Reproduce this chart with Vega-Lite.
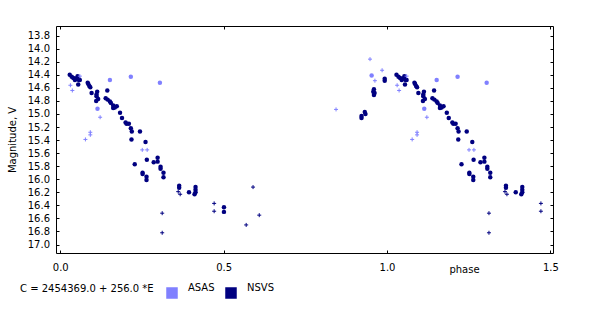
{
  "$schema": "https://vega.github.io/schema/vega-lite/v6.json",
  "width": 497,
  "height": 227,
  "autosize": {"type": "none"},
  "padding": {"left": 56, "top": 26, "right": 47, "bottom": 57},
  "background": "white",
  "config": {
    "view": {"stroke": "black", "strokeWidth": 1},
    "axis": {"domain": false, "grid": false, "offset": -3, "tickSize": 3, "tickColor": "black", "labelFontSize": 10}
  },
  "data": {"values": [
    {"p":0.029,"m":14.40,"s":"NSVS","k":"dot"},{"p":0.035,"m":14.43,"s":"NSVS","k":"dot"},{"p":0.040,"m":14.45,"s":"NSVS","k":"dot"},{"p":0.045,"m":14.48,"s":"NSVS","k":"dot"},{"p":0.047,"m":14.46,"s":"NSVS","k":"dot"},{"p":0.053,"m":14.42,"s":"NSVS","k":"dot"},{"p":0.055,"m":14.45,"s":"NSVS","k":"dot"},{"p":0.057,"m":14.48,"s":"NSVS","k":"dot"},{"p":0.055,"m":14.55,"s":"NSVS","k":"dot"},{"p":0.060,"m":14.48,"s":"NSVS","k":"dot"},
    {"p":0.084,"m":14.52,"s":"NSVS","k":"dot"},{"p":0.086,"m":14.54,"s":"NSVS","k":"dot"},{"p":0.089,"m":14.57,"s":"NSVS","k":"dot"},{"p":0.092,"m":14.59,"s":"NSVS","k":"dot"},{"p":0.096,"m":14.68,"s":"NSVS","k":"dot"},{"p":0.113,"m":14.66,"s":"NSVS","k":"dot"},{"p":0.111,"m":14.70,"s":"NSVS","k":"dot"},{"p":0.111,"m":14.73,"s":"NSVS","k":"dot"},{"p":0.116,"m":14.77,"s":"NSVS","k":"dot"},{"p":0.110,"m":14.80,"s":"NSVS","k":"dot"},
    {"p":0.144,"m":14.64,"s":"NSVS","k":"dot"},{"p":0.139,"m":14.76,"s":"NSVS","k":"dot"},{"p":0.145,"m":14.78,"s":"NSVS","k":"dot"},{"p":0.152,"m":14.81,"s":"NSVS","k":"dot"},{"p":0.155,"m":14.83,"s":"NSVS","k":"dot"},{"p":0.162,"m":14.87,"s":"NSVS","k":"dot"},{"p":0.167,"m":14.90,"s":"NSVS","k":"dot"},{"p":0.162,"m":14.91,"s":"NSVS","k":"dot"},{"p":0.173,"m":14.88,"s":"NSVS","k":"dot"},{"p":0.183,"m":14.98,"s":"NSVS","k":"dot"},
    {"p":0.189,"m":15.06,"s":"NSVS","k":"dot"},{"p":0.200,"m":15.13,"s":"NSVS","k":"dot"},{"p":0.203,"m":15.15,"s":"NSVS","k":"dot"},{"p":0.210,"m":15.15,"s":"NSVS","k":"dot"},{"p":0.216,"m":15.22,"s":"NSVS","k":"dot"},{"p":0.219,"m":15.27,"s":"NSVS","k":"dot"},{"p":0.244,"m":15.27,"s":"NSVS","k":"dot"},{"p":0.218,"m":15.39,"s":"NSVS","k":"dot"},{"p":0.261,"m":15.43,"s":"NSVS","k":"dot"},{"p":0.228,"m":15.77,"s":"NSVS","k":"dot"},
    {"p":0.265,"m":15.70,"s":"NSVS","k":"dot"},{"p":0.252,"m":15.90,"s":"NSVS","k":"dot"},{"p":0.252,"m":15.92,"s":"NSVS","k":"dot"},{"p":0.264,"m":15.96,"s":"NSVS","k":"dot"},{"p":0.264,"m":16.01,"s":"NSVS","k":"dot"},{"p":0.286,"m":15.74,"s":"NSVS","k":"dot"},{"p":0.298,"m":15.67,"s":"NSVS","k":"dot"},{"p":0.298,"m":15.73,"s":"NSVS","k":"dot"},{"p":0.307,"m":15.81,"s":"NSVS","k":"dot"},{"p":0.307,"m":15.84,"s":"NSVS","k":"dot"},
    {"p":0.316,"m":15.90,"s":"NSVS","k":"dot"},{"p":0.316,"m":15.97,"s":"NSVS","k":"dot"},{"p":0.364,"m":16.10,"s":"NSVS","k":"dot"},{"p":0.364,"m":16.13,"s":"NSVS","k":"dot"},{"p":0.394,"m":16.20,"s":"NSVS","k":"dot"},{"p":0.414,"m":16.12,"s":"NSVS","k":"dot"},{"p":0.414,"m":16.16,"s":"NSVS","k":"dot"},{"p":0.414,"m":16.20,"s":"NSVS","k":"dot"},{"p":0.411,"m":16.23,"s":"NSVS","k":"dot"},{"p":0.501,"m":16.43,"s":"NSVS","k":"dot"},{"p":0.501,"m":16.50,"s":"NSVS","k":"dot"},
    {"p":1.029,"m":14.40,"s":"NSVS","k":"dot"},{"p":1.035,"m":14.43,"s":"NSVS","k":"dot"},{"p":1.040,"m":14.45,"s":"NSVS","k":"dot"},{"p":1.045,"m":14.48,"s":"NSVS","k":"dot"},{"p":1.047,"m":14.46,"s":"NSVS","k":"dot"},{"p":1.053,"m":14.42,"s":"NSVS","k":"dot"},{"p":1.055,"m":14.45,"s":"NSVS","k":"dot"},{"p":1.057,"m":14.48,"s":"NSVS","k":"dot"},{"p":1.055,"m":14.55,"s":"NSVS","k":"dot"},{"p":1.060,"m":14.48,"s":"NSVS","k":"dot"},
    {"p":1.084,"m":14.52,"s":"NSVS","k":"dot"},{"p":1.086,"m":14.54,"s":"NSVS","k":"dot"},{"p":1.089,"m":14.57,"s":"NSVS","k":"dot"},{"p":1.092,"m":14.59,"s":"NSVS","k":"dot"},{"p":1.096,"m":14.68,"s":"NSVS","k":"dot"},{"p":1.113,"m":14.66,"s":"NSVS","k":"dot"},{"p":1.111,"m":14.70,"s":"NSVS","k":"dot"},{"p":1.111,"m":14.73,"s":"NSVS","k":"dot"},{"p":1.116,"m":14.77,"s":"NSVS","k":"dot"},{"p":1.110,"m":14.80,"s":"NSVS","k":"dot"},
    {"p":1.144,"m":14.64,"s":"NSVS","k":"dot"},{"p":1.139,"m":14.76,"s":"NSVS","k":"dot"},{"p":1.145,"m":14.78,"s":"NSVS","k":"dot"},{"p":1.152,"m":14.81,"s":"NSVS","k":"dot"},{"p":1.155,"m":14.83,"s":"NSVS","k":"dot"},{"p":1.162,"m":14.87,"s":"NSVS","k":"dot"},{"p":1.167,"m":14.90,"s":"NSVS","k":"dot"},{"p":1.162,"m":14.91,"s":"NSVS","k":"dot"},{"p":1.173,"m":14.88,"s":"NSVS","k":"dot"},{"p":1.183,"m":14.98,"s":"NSVS","k":"dot"},
    {"p":1.189,"m":15.06,"s":"NSVS","k":"dot"},{"p":1.200,"m":15.13,"s":"NSVS","k":"dot"},{"p":1.203,"m":15.15,"s":"NSVS","k":"dot"},{"p":1.210,"m":15.15,"s":"NSVS","k":"dot"},{"p":1.216,"m":15.22,"s":"NSVS","k":"dot"},{"p":1.219,"m":15.27,"s":"NSVS","k":"dot"},{"p":1.244,"m":15.27,"s":"NSVS","k":"dot"},{"p":1.218,"m":15.39,"s":"NSVS","k":"dot"},{"p":1.261,"m":15.43,"s":"NSVS","k":"dot"},{"p":1.228,"m":15.77,"s":"NSVS","k":"dot"},
    {"p":1.265,"m":15.70,"s":"NSVS","k":"dot"},{"p":1.252,"m":15.90,"s":"NSVS","k":"dot"},{"p":1.252,"m":15.92,"s":"NSVS","k":"dot"},{"p":1.264,"m":15.96,"s":"NSVS","k":"dot"},{"p":1.264,"m":16.01,"s":"NSVS","k":"dot"},{"p":1.286,"m":15.74,"s":"NSVS","k":"dot"},{"p":1.298,"m":15.67,"s":"NSVS","k":"dot"},{"p":1.298,"m":15.73,"s":"NSVS","k":"dot"},{"p":1.307,"m":15.81,"s":"NSVS","k":"dot"},{"p":1.307,"m":15.84,"s":"NSVS","k":"dot"},
    {"p":1.316,"m":15.90,"s":"NSVS","k":"dot"},{"p":1.316,"m":15.97,"s":"NSVS","k":"dot"},{"p":1.364,"m":16.10,"s":"NSVS","k":"dot"},{"p":1.364,"m":16.13,"s":"NSVS","k":"dot"},{"p":1.394,"m":16.20,"s":"NSVS","k":"dot"},{"p":1.414,"m":16.12,"s":"NSVS","k":"dot"},{"p":1.414,"m":16.16,"s":"NSVS","k":"dot"},{"p":1.414,"m":16.20,"s":"NSVS","k":"dot"},{"p":1.411,"m":16.23,"s":"NSVS","k":"dot"},
    {"p":0.993,"m":14.46,"s":"NSVS","k":"dot"},{"p":0.993,"m":14.49,"s":"NSVS","k":"dot"},{"p":0.960,"m":14.62,"s":"NSVS","k":"dot"},{"p":0.958,"m":14.66,"s":"NSVS","k":"dot"},{"p":0.962,"m":14.68,"s":"NSVS","k":"dot"},{"p":0.960,"m":14.71,"s":"NSVS","k":"dot"},{"p":0.922,"m":15.06,"s":"NSVS","k":"dot"},{"p":0.922,"m":15.03,"s":"NSVS","k":"dot"},{"p":0.932,"m":14.97,"s":"NSVS","k":"dot"},{"p":0.934,"m":15.00,"s":"NSVS","k":"dot"},
    {"p":0.361,"m":16.19,"s":"NSVS","k":"cross"},{"p":0.367,"m":16.23,"s":"NSVS","k":"cross"},{"p":0.471,"m":16.37,"s":"NSVS","k":"cross"},{"p":0.471,"m":16.49,"s":"NSVS","k":"cross"},{"p":0.312,"m":16.52,"s":"NSVS","k":"cross"},{"p":0.312,"m":16.82,"s":"NSVS","k":"cross"},{"p":0.590,"m":16.12,"s":"NSVS","k":"cross"},{"p":0.609,"m":16.55,"s":"NSVS","k":"cross"},{"p":0.569,"m":16.70,"s":"NSVS","k":"cross"},
    {"p":1.361,"m":16.19,"s":"NSVS","k":"cross"},{"p":1.367,"m":16.23,"s":"NSVS","k":"cross"},{"p":1.471,"m":16.37,"s":"NSVS","k":"cross"},{"p":1.471,"m":16.49,"s":"NSVS","k":"cross"},{"p":1.312,"m":16.52,"s":"NSVS","k":"cross"},{"p":1.312,"m":16.82,"s":"NSVS","k":"cross"},
    {"p":0.152,"m":14.48,"s":"ASAS","k":"dot"},{"p":0.216,"m":14.43,"s":"ASAS","k":"dot"},{"p":0.305,"m":14.52,"s":"ASAS","k":"dot"},{"p":0.114,"m":14.92,"s":"ASAS","k":"dot"},
    {"p":1.152,"m":14.48,"s":"ASAS","k":"dot"},{"p":1.216,"m":14.43,"s":"ASAS","k":"dot"},{"p":1.305,"m":14.52,"s":"ASAS","k":"dot"},{"p":1.114,"m":14.92,"s":"ASAS","k":"dot"},{"p":0.953,"m":14.41,"s":"ASAS","k":"dot"},
    {"p":0.031,"m":14.56,"s":"ASAS","k":"cross"},{"p":0.037,"m":14.64,"s":"ASAS","k":"cross"},{"p":0.060,"m":14.42,"s":"ASAS","k":"cross"},{"p":0.122,"m":15.05,"s":"ASAS","k":"cross"},{"p":0.092,"m":15.28,"s":"ASAS","k":"cross"},{"p":0.092,"m":15.32,"s":"ASAS","k":"cross"},{"p":0.077,"m":15.39,"s":"ASAS","k":"cross"},{"p":0.251,"m":15.55,"s":"ASAS","k":"cross"},{"p":0.266,"m":15.55,"s":"ASAS","k":"cross"},
    {"p":1.031,"m":14.56,"s":"ASAS","k":"cross"},{"p":1.037,"m":14.64,"s":"ASAS","k":"cross"},{"p":1.060,"m":14.42,"s":"ASAS","k":"cross"},{"p":1.122,"m":15.05,"s":"ASAS","k":"cross"},{"p":1.092,"m":15.28,"s":"ASAS","k":"cross"},{"p":1.092,"m":15.32,"s":"ASAS","k":"cross"},{"p":1.077,"m":15.39,"s":"ASAS","k":"cross"},{"p":1.251,"m":15.55,"s":"ASAS","k":"cross"},{"p":1.266,"m":15.55,"s":"ASAS","k":"cross"},
    {"p":0.948,"m":14.16,"s":"ASAS","k":"cross"},{"p":0.985,"m":14.33,"s":"ASAS","k":"cross"},{"p":0.963,"m":14.49,"s":"ASAS","k":"cross"},{"p":0.844,"m":14.93,"s":"ASAS","k":"cross"}
  ]},
  "layer": [
    {
      "transform": [{"filter": "datum.k == 'dot'"}],
      "mark": {"type": "point", "shape": "circle", "filled": true, "size": 20, "opacity": 1},
      "encoding": {
        "x": {"field": "p", "type": "quantitative", "scale": {"domain": [-0.013, 1.508], "nice": false, "zero": false},
              "axis": {"orient": "bottom", "values": [0, 0.5, 1, 1.5], "format": ".1f", "labelFont": "DejaVu Sans", "labelColor": "black", "labelPadding": 17, "labelBaseline": "alphabetic", "title": "phase", "titleFont": "DejaVu Sans", "titleFontSize": 10, "titleFontWeight": "normal", "titleColor": "black", "titleX": 408, "titleY": 22, "titleBaseline": "alphabetic", "titleAlign": "center"}},
        "y": {"field": "m", "type": "quantitative", "scale": {"domain": [13.652, 17.13], "reverse": true, "nice": false, "zero": false},
              "axis": {"orient": "left", "values": [13.8, 14.0, 14.2, 14.4, 14.6, 14.8, 15.0, 15.2, 15.4, 15.6, 15.8, 16.0, 16.2, 16.4, 16.6, 16.8, 17.0], "format": ".1f", "labelFont": "DejaVu Sans", "labelColor": "black", "labelPadding": 6.5, "title": "Magnitude, V", "titleFont": "DejaVu Sans", "titleFontSize": 10, "titleFontWeight": "normal", "titleColor": "black", "titleX": -44, "titleY": 113.5, "titleBaseline": "alphabetic", "titleAlign": "center", "titleAngle": -90}},
        "color": {"field": "s", "type": "nominal", "scale": {"domain": ["ASAS", "NSVS"], "range": ["#8080ff", "#000080"]},
                  "legend": {"orient": "none", "legendX": -36, "legendY": 261, "direction": "horizontal", "title": "C = 2454369.0 + 256.0 *E", "titleOrient": "left", "titleFont": "DejaVu Sans", "titleFontSize": 10, "titleFontWeight": "normal", "titleColor": "black", "titlePadding": 12, "titleBaseline": "bottom", "symbolType": "square", "symbolSize": 100, "symbolOpacity": 1, "labelFont": "DejaVu Sans", "labelFontSize": 10, "labelColor": "black", "labelOffset": 10, "labelBaseline": "bottom", "columnPadding": 8}}
      }
    },
    {
      "transform": [{"filter": "datum.k == 'cross'"}],
      "mark": {"type": "point", "shape": "M-1,0L1,0M0,-1L0,1", "filled": false, "size": 16, "opacity": 1, "strokeWidth": 1},
      "encoding": {
        "x": {"field": "p", "type": "quantitative", "axis": {"orient": "top", "values": [0, 0.5, 1, 1.5], "labels": false, "title": null}},
        "y": {"field": "m", "type": "quantitative", "axis": {"orient": "right", "values": [13.8, 14.0, 14.2, 14.4, 14.6, 14.8, 15.0, 15.2, 15.4, 15.6, 15.8, 16.0, 16.2, 16.4, 16.6, 16.8, 17.0], "labels": false, "title": null}},
        "color": {"field": "s", "type": "nominal", "legend": null}
      }
    }
  ],
  "resolve": {"axis": {"x": "independent", "y": "independent"}}
}
